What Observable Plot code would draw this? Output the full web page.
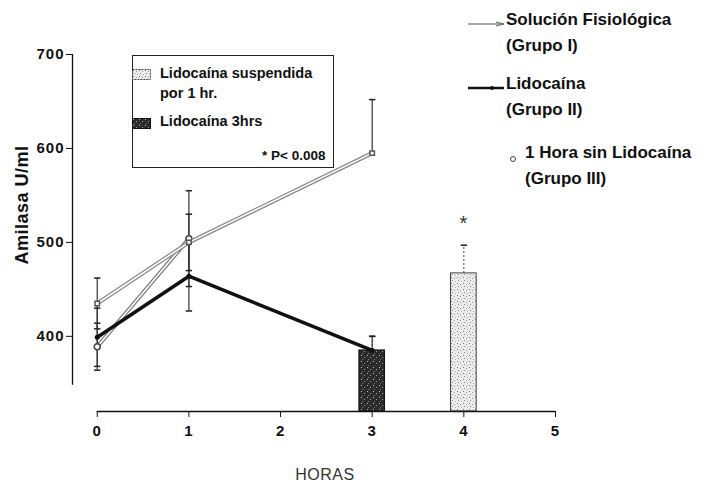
<!DOCTYPE html>
<html>
<head>
<meta charset="utf-8">
<script src="https://cdn.jsdelivr.net/npm/d3@7"></script>
<script src="https://cdn.jsdelivr.net/npm/@observablehq/plot@0.6"></script>
<style>
  body { margin: 0; background: #fff; font-family: "Liberation Sans", Arial, sans-serif; }
  #wrap { position: relative; width: 705px; height: 488px; overflow: hidden; }
  .abs { position: absolute; white-space: nowrap; color: #111; }
  .leg { font-size: 17px; font-weight: bold; line-height: 26px; }
  .box { position: absolute; left: 132px; top: 55px; width: 200px; height: 111px; border: 1px solid #222; }
  .ins { font-size: 14.5px; font-weight: bold; }
</style>
</head>
<body>
<div id="wrap"></div>
<script>
// ---- data ----
const horasI = [0, 1, 3];          // Solución Fisiológica (Grupo I)
const valoresI = [435, 500, 595];
const errI = [27, 30, 57];

const horasII = [0, 1, 3];         // Lidocaína (Grupo II)
const valoresII = [399, 464, 385];
const errII = [31, 37, 15];

const horasIII = [0, 1];           // 1 Hora sin Lidocaína (Grupo III)
const valoresIII = [389, 504];
const errIII = [25, 51];

const barHoras = [3, 4];           // barras
const barValores = [385, 467];
const barErr = [15, 30];
const barGrupo = ["Lidocaína 3hrs", "Lidocaína suspendida por 1 hr."];
const barSig = ["", "*"];

const xTicks = [0, 1, 2, 3, 4, 5];
const yTicks = [400, 500, 600, 700];
const xDomain = [-0.27, 5];
const yDomain = [320, 700];
const yAxisLine = [348, 700];

// ---- tables ----
const mk = (h, v, e, g) => h.map((x, i) => ({hora: x, val: v[i], err: e[i], g}));
const sI = mk(horasI, valoresI, errI, "I");
const sII = mk(horasII, valoresII, errII, "II");
const sIII = mk(horasIII, valoresIII, errIII, "III");
const bars = barHoras.map((h, i) => ({hora: h, val: barValores[i], err: barErr[i], g: barGrupo[i], sig: barSig[i]}));
const barHalf = 0.14;
const cap = 0.035;

const errAll = [...sI.map(d => ({...d, dash: d.hora === 3})), ...sII, ...sIII];

const chart = Plot.plot({
  width: 705,
  height: 488,
  marginLeft: 72,
  marginRight: 150,
  marginTop: 54,
  marginBottom: 77,
  x: {domain: xDomain},
  y: {domain: yDomain},
  style: {fontFamily: "Liberation Sans, Arial, sans-serif", color: "#111", background: "transparent"},
  marks: [
    // bars
    Plot.rectY(bars, {x1: d => d.hora - barHalf, x2: d => d.hora + barHalf, y1: yDomain[0], y2: "val",
      fill: d => d.hora === 3 ? "url(#patDark)" : "url(#patLight)",
      stroke: d => d.hora === 3 ? "#111" : "#444", strokeWidth: 1, strokeDasharray: d => d.hora === 3 ? null : "2,1.5"}),
    Plot.ruleX(bars, {x: "hora", y1: "val", y2: d => d.val + d.err, stroke: "#444", strokeDasharray: "2,2"}),
    Plot.link(bars, {x1: d => d.hora - cap, x2: d => d.hora + cap, y1: d => d.val + d.err, y2: d => d.val + d.err, stroke: "#222", strokeWidth: 1.5}),
    Plot.text(bars, {x: "hora", y: d => d.val + d.err, text: "sig", dy: -22, fontSize: 20, fill: "#333"}),
    // error bars
    Plot.ruleX(errAll, {x: "hora", y1: d => d.dash ? d.val : d.val - d.err, y2: d => d.val + d.err, stroke: "#333", strokeWidth: 1.2,
      strokeDasharray: d => d.dash ? "3,2" : null}),
    Plot.link(errAll, {x1: d => d.hora - cap, x2: d => d.hora + cap, y1: d => d.val + d.err, y2: d => d.val + d.err, stroke: "#222", strokeWidth: 1.5}),
    Plot.link(errAll.filter(d => !d.dash), {x1: d => d.hora - cap, x2: d => d.hora + cap, y1: d => d.val - d.err, y2: d => d.val - d.err, stroke: "#222", strokeWidth: 1.5}),
    // Grupo III: hollow grey line
    Plot.line(sIII, {x: "hora", y: "val", stroke: "#777", strokeWidth: 4}),
    Plot.line(sIII, {x: "hora", y: "val", stroke: "#fff", strokeWidth: 1.6}),
    Plot.dot(sIII, {x: "hora", y: "val", r: 3, stroke: "#444", fill: "#fff"}),
    // Grupo I: hollow grey double line
    Plot.line(sI, {x: "hora", y: "val", stroke: "#888", strokeWidth: 4}),
    Plot.line(sI, {x: "hora", y: "val", stroke: "#fff", strokeWidth: 1.6}),
    Plot.dot(sI, {x: "hora", y: "val", r: 2.5, stroke: "#555", fill: "#fff", symbol: "square"}),
    // Grupo II: thick black line
    Plot.line(sII, {x: "hora", y: "val", stroke: "#111", strokeWidth: 3.5}),
    Plot.dot(sII, {x: "hora", y: "val", r: 2.5, fill: "#111"}),
    // axes
    Plot.ruleY([yDomain[0]], {x1: xTicks[0], x2: xTicks[xTicks.length - 1], stroke: "#111", strokeWidth: 1.5}),
    Plot.ruleX([xDomain[0]], {y1: yAxisLine[0], y2: yAxisLine[1], stroke: "#111", strokeWidth: 1.3}),
    Plot.axisX({ticks: xTicks, tickSize: 6, tickPadding: 8, fontSize: 15, fontWeight: "bold", label: null, tickFormat: d => String(d)}),
    Plot.axisY({ticks: yTicks, tickSize: 6, tickPadding: 2, fontSize: 15, fontWeight: "bold", label: null, anchor: "left"})
  ]
});

// textures for the bars (stippled look of the original)
const defs = document.createElementNS("http://www.w3.org/2000/svg", "defs");
defs.innerHTML = `
<pattern id="patDark" width="6" height="6" patternUnits="userSpaceOnUse">
  <rect width="6" height="6" fill="#2b2b2b"/>
  <rect x="1" y="1" width="1" height="1" fill="#bbb"/>
  <rect x="4" y="3" width="1" height="1" fill="#999"/>
  <rect x="2" y="5" width="1" height="1" fill="#777"/>
</pattern>
<pattern id="patLight" width="6" height="6" patternUnits="userSpaceOnUse">
  <rect width="6" height="6" fill="#ececec"/>
  <rect x="1" y="1" width="1" height="1" fill="#777"/>
  <rect x="4" y="2" width="1" height="1" fill="#999"/>
  <rect x="2" y="4" width="1" height="1" fill="#888"/>
  <rect x="5" y="5" width="1" height="1" fill="#aaa"/>
</pattern>`;
chart.insertBefore(defs, chart.firstChild);

const wrap = document.getElementById("wrap");
wrap.appendChild(chart);

function addDiv(html, css, cls) {
  const d = document.createElement("div");
  d.className = "abs " + (cls || "");
  d.innerHTML = html;
  d.style.cssText += css;
  wrap.appendChild(d);
  return d;
}
chart.querySelectorAll("text").forEach(t => t.setAttribute("letter-spacing", "1"));

// y label
addDiv("Amilasa U/ml", "left:22px;top:205px;transform:translate(-50%,-50%) rotate(-90deg);font-size:18px;font-weight:bold;letter-spacing:0.5px;");
// x label
addDiv("HORAS", "left:325px;top:475px;transform:translate(-50%,-50%);font-size:16px;color:#333;letter-spacing:0.5px;");

// right legend
addDiv('<svg width="40" height="10"><line x1="0" y1="5" x2="36" y2="5" stroke="#888" stroke-width="1.5"/><path d="M28 3 L36 5 L28 7" fill="none" stroke="#666"/></svg>', "left:468px;top:15px;");
addDiv("Solución Fisiológica<br>(Grupo I)", "left:506px;top:7px;", "leg");
addDiv('<svg width="40" height="10"><line x1="0" y1="5" x2="36" y2="5" stroke="#111" stroke-width="2.5"/><circle cx="24" cy="5" r="2" fill="#111"/></svg>', "left:468px;top:79px;");
addDiv("Lidocaína<br>(Grupo II)", "left:506px;top:71px;", "leg");
addDiv('<svg width="10" height="10"><circle cx="5" cy="5" r="2.5" fill="none" stroke="#444"/></svg>', "left:508px;top:150px;");
addDiv("1 Hora sin Lidocaína<br>(Grupo III)", "left:525px;top:140px;", "leg");

// inset legend box
const box = document.createElement("div");
box.className = "box";
wrap.appendChild(box);
addDiv('<svg width="20" height="12"><rect x="0.5" y="0.5" width="18" height="10" fill="url(#patLight)" stroke="#444" stroke-dasharray="2,1"/></svg>', "left:132px;top:67px;");
addDiv("Lidocaína suspendida<br>por 1 hr.", "left:160px;top:63px;line-height:20px;", "ins");
addDiv('<svg width="20" height="12"><rect x="0.5" y="0.5" width="18" height="10" fill="url(#patDark)" stroke="#111"/></svg>', "left:132px;top:116px;");
addDiv("Lidocaína 3hrs", "left:160px;top:113px;", "ins");
addDiv("* P&lt; 0.008", "left:262px;top:148px;font-size:13.5px;font-weight:bold;", "");
</script>
</body>
</html>
